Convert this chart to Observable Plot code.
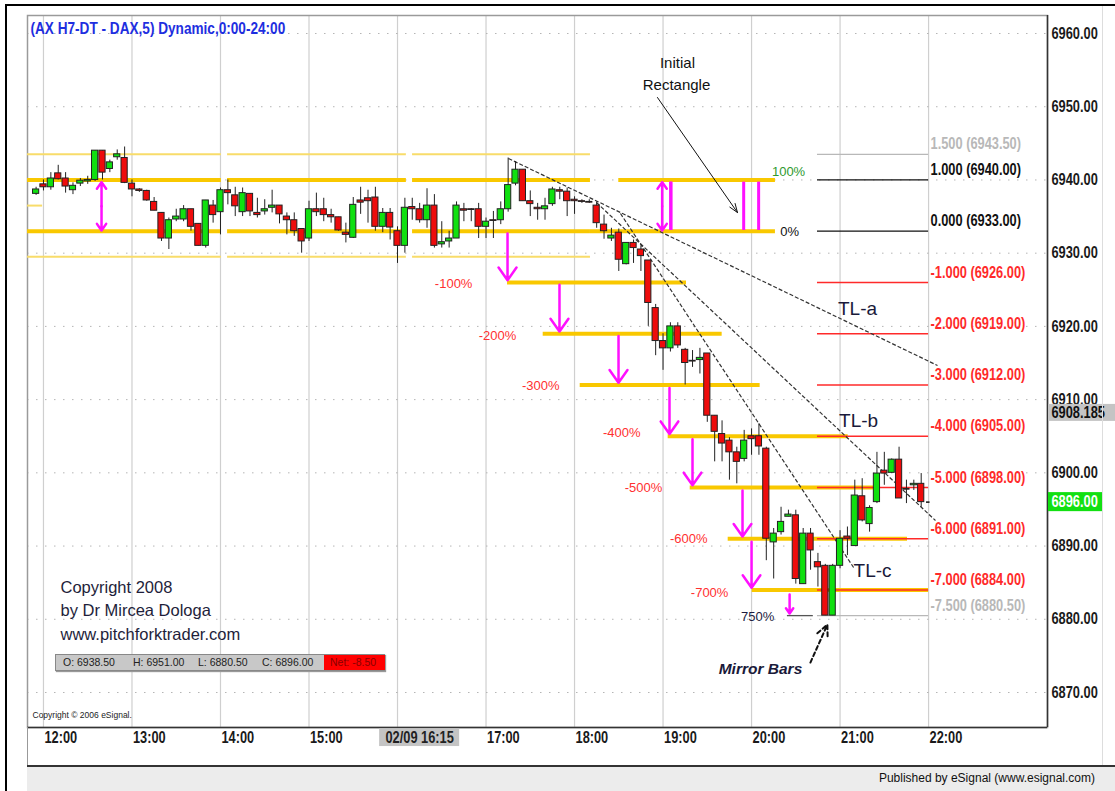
<!DOCTYPE html>
<html><head><meta charset="utf-8">
<script src="https://cdn.jsdelivr.net/npm/d3@7"></script>
<script src="https://cdn.jsdelivr.net/npm/@observablehq/plot@0.6"></script>
<style>
body{margin:0;background:#fff;}
#wrap{position:relative;width:1115px;height:791px;overflow:hidden;background:#fff;font-family:"Liberation Sans",Arial,sans-serif;}
#chart{position:absolute;left:0;top:0;}
#outer{position:absolute;left:5px;top:4px;width:1120px;height:800px;border-left:2px solid #000;border-top:2px solid #000;box-sizing:border-box;pointer-events:none;}
#status{position:absolute;left:55px;top:654px;width:330px;height:17px;background:#c8c8c8;border:1px solid #888;box-sizing:border-box;font-size:10.5px;line-height:15px;color:#222;white-space:nowrap;box-shadow:1px 1px 1px #999;}
#status span{position:absolute;top:0;}
#status .net{background:#ff0000;color:#800;left:268px;width:61px;height:15px;padding-left:6px;box-sizing:border-box;}
#pub{position:absolute;left:27px;top:765px;width:1088px;height:26px;background:#ececec;border-top:2px solid #333;box-sizing:border-box;font-size:12px;line-height:22px;text-align:right;padding-right:20px;color:#111;}
#pubL{position:absolute;left:27px;top:727px;width:1px;height:64px;background:#999;}
#rline{position:absolute;left:1102px;top:4px;width:1px;height:761px;background:#ddd;}
</style></head><body><div id="wrap"><div id="chart"></div><div id="rline"></div><div id="pubL"></div>
<div id="status"><span style="left:7px">O: 6938.50</span><span style="left:77px">H: 6951.00</span><span style="left:142px">L: 6880.50</span><span style="left:206px">C: 6896.00</span><span class="net">Net: -8.50</span></div>
<div id="pub">Published by eSignal (www.esignal.com)</div>
<div id="outer"></div></div>
<script>
// ---------- DATA ----------
const title = "(AX H7-DT - DAX,5) Dynamic,0:00-24:00";
const barStart = 11 + 55/60;   // first bar 11:55
const barStep = 5/60;          // 5-minute bars
const opens  = [6938.1,6939.4,6939.0,6940.9,6940.2,6938.6,6939.5,6939.8,6940.0,6944.0,6941.5,6943.1,6943.0,6939.5,6938.7,6938.5,6937.0,6935.5,6932.0,6934.6,6934.6,6936.0,6934.0,6931.0,6936.5,6935.6,6938.6,6937.9,6935.6,6938.1,6935.5,6935.7,6936.2,6936.5,6935.0,6934.5,6933.3,6932.0,6936.0,6936.0,6935.2,6934.9,6932.8,6932.1,6937.2,6937.5,6937.6,6933.6,6935.5,6933.0,6931.0,6936.3,6936.0,6934.5,6936.5,6931.2,6931.6,6932.0,6936.0,6936.0,6936.0,6933.6,6934.5,6934.5,6936.0,6939.5,6941.4,6937.1,6936.2,6936.0,6936.7,6938.6,6938.4,6937.3,6937.1,6937.0,6936.5,6933.9,6932.0,6932.8,6928.5,6931.4,6930.5,6929.0,6922.5,6918.0,6917.0,6920.0,6916.8,6915.3,6915.4,6916.3,6907.8,6905.3,6904.4,6902.8,6901.9,6905.0,6905.0,6903.3,6890.5,6891.9,6894.0,6894.2,6884.8,6891.7,6887.8,6887.3,6880.5,6887.3,6891.3,6890.0,6896.8,6893.0,6896.0,6900.3,6900.0,6901.8,6897.8,6898.3,6898.5];
const highs  = [6939.0,6940.0,6941.0,6942.0,6941.0,6939.6,6940.2,6940.5,6944.0,6944.0,6942.7,6944.1,6944.5,6940.0,6938.8,6938.6,6937.6,6935.5,6934.8,6936.0,6936.5,6936.0,6934.0,6937.2,6937.2,6938.9,6940.0,6939.0,6938.9,6938.1,6937.5,6937.3,6938.6,6936.5,6935.5,6935.5,6933.3,6937.1,6938.2,6937.5,6936.0,6934.9,6934.1,6937.6,6939.0,6938.6,6939.0,6936.1,6936.1,6933.6,6937.5,6937.5,6936.8,6938.8,6938.0,6934.3,6933.0,6937.0,6936.8,6936.1,6936.8,6934.8,6935.7,6937.0,6943.0,6942.5,6941.4,6938.5,6936.8,6937.5,6939.0,6939.0,6938.9,6937.7,6937.3,6937.3,6937.0,6935.2,6933.4,6933.3,6931.4,6931.8,6931.0,6929.0,6923.0,6919.0,6920.5,6920.5,6917.0,6916.7,6917.0,6916.3,6907.8,6907.1,6904.8,6903.5,6905.8,6906.0,6906.7,6903.5,6892.4,6895.3,6894.9,6894.9,6892.4,6892.4,6889.0,6887.5,6887.5,6892.1,6892.6,6899.0,6899.2,6895.5,6902.8,6902.8,6901.9,6903.5,6899.0,6899.0,6899.9];
const lows   = [6937.9,6938.5,6938.6,6940.0,6938.2,6938.0,6939.1,6939.4,6939.8,6940.0,6941.0,6942.7,6939.5,6937.7,6938.3,6937.1,6935.8,6931.6,6930.5,6934.3,6934.3,6933.0,6931.0,6930.7,6934.1,6932.5,6936.6,6935.0,6935.0,6935.0,6934.8,6935.2,6935.5,6934.0,6932.5,6932.3,6930.0,6931.6,6935.0,6934.3,6934.1,6933.0,6931.4,6932.0,6935.3,6934.1,6933.0,6932.8,6931.8,6928.6,6930.0,6934.5,6934.1,6933.4,6930.7,6930.7,6930.7,6932.0,6934.3,6934.3,6932.0,6932.0,6932.0,6933.9,6935.6,6939.2,6937.1,6935.0,6934.5,6934.5,6936.4,6937.3,6935.0,6935.3,6936.8,6936.8,6933.4,6931.9,6931.6,6927.5,6928.4,6928.6,6927.5,6920.0,6916.0,6914.0,6916.5,6917.0,6912.0,6914.4,6913.5,6906.9,6901.5,6901.5,6899.0,6898.5,6901.5,6902.4,6902.4,6888.0,6885.5,6891.5,6894.0,6884.8,6884.8,6886.7,6884.4,6880.5,6880.5,6886.9,6888.7,6890.0,6893.3,6891.9,6895.8,6898.3,6899.9,6896.5,6895.8,6897.6,6895.3];
const closes = [6938.7,6939.0,6940.2,6940.1,6939.1,6939.2,6939.9,6940.0,6944.0,6941.0,6942.4,6943.5,6939.6,6938.7,6938.5,6937.2,6935.8,6932.0,6934.5,6935.0,6936.0,6933.6,6931.0,6937.2,6935.2,6938.6,6938.2,6936.4,6938.2,6935.7,6935.2,6936.0,6936.5,6935.3,6934.5,6933.0,6931.6,6936.0,6935.6,6935.2,6934.9,6933.1,6932.5,6936.6,6936.9,6937.1,6933.6,6935.5,6933.5,6931.0,6936.2,6936.0,6934.5,6936.5,6931.0,6931.5,6932.0,6936.5,6935.8,6935.9,6933.6,6934.3,6934.4,6936.0,6939.3,6941.4,6937.1,6936.7,6936.0,6936.4,6938.7,6938.4,6937.1,6937.1,6937.0,6936.9,6934.1,6933.0,6932.4,6929.1,6931.4,6930.7,6929.6,6923.2,6918.0,6917.0,6920.0,6917.4,6915.0,6915.2,6915.7,6907.8,6905.6,6904.0,6902.8,6901.5,6904.4,6904.6,6903.6,6891.0,6891.7,6893.3,6894.3,6885.5,6891.7,6889.4,6887.1,6880.5,6887.3,6891.0,6891.0,6896.9,6893.5,6895.2,6899.9,6899.9,6901.8,6896.5,6897.7,6898.5,6896.0];

const priceTicks = [6870,6880,6890,6900,6910,6920,6930,6940,6950,6960];
const hourTicks  = [12,13,14,15,16,17,18,19,20,21,22];
const hourLabels = ["12:00","13:00","14:00","15:00","","17:00","18:00","19:00","20:00","21:00","22:00"];
const cursorTime = 16.25, cursorLabel = "02/09 16:15";
const lastValue = 6896.00, crossValue = 6908.185;

// initial rectangle levels (yellow) in three sessions
const sessionStarts = [11.82, 14.08, 16.17];
const sessionEnds   = [14.01, 16.10, 18.18];
const thickLevels = [6940, 6933];
const thinLevels  = [6943.5, 6929.5];
// projected rectangle on the right
const rectTop = 6940, rectBottom = 6933;
const rectTopStart = 18.50, rectBottomStart = 18.18, rectEnd = 20.27;
// extension levels drawn in yellow
const extLevels = [6926, 6919, 6912, 6905, 6898, 6891, 6884];
const extStarts = [17.243, 17.646, 18.064, 19.058, 19.307, 19.736, 20.007];
const extEnds   = [19.265, 19.668, 20.097, 21.092, 21.40, 21.762, 22.0];
const extLabels = ["-100%","-200%","-300%","-400%","-500%","-600%","-700%","750%"];
const extLabelT = [16.634, 17.13, 17.618, 18.533, 18.78, 19.29, 19.526, 20.068];
const extLabelP = [6925.85, 6918.75, 6911.93, 6905.5, 6898.0, 6891.0, 6883.65, 6880.38];
// Fibonacci tool
const fibRatios = [1.5, 1, 0, -1, -2, -3, -4, -5, -6, -7, -7.5];
const fibPrices = [6943.5, 6940, 6933, 6926, 6919, 6912, 6905, 6898, 6891, 6884, 6880.5];
const fibStart = 20.745, fibEnd = 22.0;
// trend lines [t1,p1,t2,p2]
const tlNames = ["TL-a","TL-b","TL-c"];
const tlLines = [[17.254,6942.93,22.101,6914.66],[18.248,6936.92,22.078,6893.49],[18.519,6935.42,21.153,6887.07]];
const tlLabelPos = [[21.197,6922.44],[21.209,6907.15],[21.367,6886.66]];
// magenta arrows
const dblArrowT = [12.656, 18.99];
const barMarksT = [19.086, 19.911, 20.08];
const rectArrowHi = 6939.7, rectArrowLo = 6933.1;
const downArrowT  = [17.243, 17.83, 18.497, 19.073, 19.333, 19.898, 20.0, 20.43];
const downArrowP1 = [6932.7, 6925.7, 6918.7, 6911.6, 6904.6, 6897.6, 6890.6, 6883.4];
const downArrowP2 = [6926.3, 6919.3, 6912.3, 6905.3, 6898.3, 6891.3, 6884.3, 6880.8];

// ---------- TABLES ----------
const bars = opens.map((o,i)=>({t: barStart + i*barStep, o, h: highs[i], l: lows[i], c: closes[i]}));
const segThick = [], segThin = [];
sessionStarts.forEach((s,i)=>{
  thickLevels.forEach(p=>segThick.push({p, t1:s, t2:sessionEnds[i]}));
  thinLevels.forEach(p=>segThin.push({p, t1:s, t2:sessionEnds[i]}));
});
segThin.push({p:6936.5, t1:11.82, t2:11.99});
segThick.push({p:rectTop, t1:rectTopStart, t2:rectEnd});
segThick.push({p:rectBottom, t1:rectBottomStart, t2:rectEnd});
extLevels.forEach((p,i)=>segThick.push({p, t1:extStarts[i], t2:extEnds[i]}));
const fib = fibRatios.map((r,i)=>({r, p: fibPrices[i],
  color: (r===1.5||r===-7.5) ? "#b8b8b8" : (r>=0 ? "#111" : "#ff2a2a"),
  text: r.toFixed(3) + " (" + fibPrices[i].toFixed(2) + ")"}));
const tls = tlLines.map(d=>({t1:d[0],p1:d[1],t2:d[2],p2:d[3]}));
const downArrows = downArrowT.map((t,i)=>({t, p1: downArrowP1[i], p2: downArrowP2[i]}));
const mid = (rectArrowHi + rectArrowLo)/2;
const dbl = [];
dblArrowT.forEach(t=>{dbl.push({t, p1:mid, p2:rectArrowHi}); dbl.push({t, p1:mid, p2:rectArrowLo});});
const extText = extLabels.map((s,i)=>({s, t: extLabelT[i], p: extLabelP[i]}));

const narrow = "'Arial Narrow','Liberation Sans',sans-serif";
const xDomain = [11.8195, 23.3437];
const yDomain = [6865.22, 6962.46];
const last = bars[bars.length-1];
const hw = 0.035;

const chart = Plot.plot({
  width: 1115, height: 765,
  marginLeft: 27, marginRight: 68, marginTop: 15, marginBottom: 38,
  x: {domain: xDomain, axis: null},
  y: {domain: yDomain, axis: null},
  style: {background: "transparent", fontFamily: "'Liberation Sans',Arial,sans-serif"},
  marks: [
    Plot.ruleX(hourTicks, {x: d=>d, stroke: "#cfcfcf", strokeWidth: 1.2}),
    Plot.ruleY(priceTicks, {y: d=>d, x1: xDomain[0], x2: xDomain[1], stroke: "#b5b5b5", strokeDasharray: "1.5,7.5"}),
    Plot.frame({stroke: "#9a9a9a", strokeWidth: 1.5}),
    Plot.ruleY([yDomain[0]], {stroke: "#333", strokeWidth: 1.5}),
    Plot.ruleX([xDomain[1]], {stroke: "#333", strokeWidth: 1.5}),
    // title
    Plot.text([title], {frameAnchor: "top-left", dx: 3, dy: 13, text: d=>d, fill: "#1e2ee0", fontWeight: "bold", fontSize: 16, fontFamily: narrow, lineAnchor: "middle"}),
    // yellow levels
    Plot.ruleY(segThin, {y: "p", x1: "t1", x2: "t2", stroke: "#f8dc6a", strokeWidth: 2}),
    Plot.ruleY(segThick, {y: "p", x1: "t1", x2: "t2", stroke: "#f9c800", strokeWidth: 4}),
    // fib tool
    Plot.ruleY(fib, {y: "p", x1: fibStart, x2: fibEnd, stroke: "color", strokeWidth: d=>d.r<0 && d.r>-7.5 ? 1.6 : 1.3}),
    Plot.ruleY([fibPrices[fibPrices.length-1]], {x1: 20.405, x2: 20.698, stroke: "#555", strokeWidth: 1.3}),
    Plot.text(fib, {x: fibEnd, y: "p", text: "text", fill: "color", dx: 2, dy: -10, textAnchor: "start", fontSize: 16, fontWeight: "bold", fontFamily: narrow}),
    Plot.text(["100%"], {x: 20.418, y: 6941.15, text: d=>d, fill: "#2e9a2e", fontSize: 13}),
    Plot.text(["0%"], {x: 20.43, y: 6932.96, text: d=>d, fill: "#111", fontSize: 13}),
    Plot.text(extText, {x: "t", y: "p", text: "s", fill: d=>d.s==="750%" ? "#1c1c40" : "#ff3030", fontWeight: d=>d.s==="750%" ? "bold" : "normal", fontSize: 13}),
    // trend lines
    Plot.link(tls, {x1: "t1", y1: "p1", x2: "t2", y2: "p2", stroke: "#333", strokeWidth: 1.2, strokeDasharray: "4,2"}),
    // candles
    Plot.ruleX(bars, {x: "t", y1: "l", y2: "h", stroke: "#222", strokeWidth: 1}),
    Plot.rect(bars, {x1: d=>d.t-hw, x2: d=>d.t+hw, y1: "o", y2: "c", fill: d=>d.c>=d.o ? "#10e010" : "#ee0c0c", stroke: "#222", strokeWidth: 1}),
    Plot.ruleY([lastValue], {x1: last.t + 0.06, x2: last.t + 0.1, stroke: "#111", strokeWidth: 1.5}),
    // magenta arrows
    Plot.arrow(dbl, {x1: "t", y1: "p1", x2: "t", y2: "p2", stroke: "#ff10ff", strokeWidth: 2.5, headLength: 10, headAngle: 70}),
    Plot.ruleX(barMarksT, {x: d=>d, y1: rectArrowLo, y2: rectArrowHi, stroke: "#ff10ff", strokeWidth: 3}),
    Plot.ruleX([dblArrowT[1]+0.1], {x: d=>d, y1: rectArrowLo, y2: rectArrowHi, stroke: "#ff10ff", strokeWidth: 3}),
    Plot.arrow(downArrows, {x1: "t", y1: "p1", x2: "t", y2: "p2", stroke: "#ff10ff", strokeWidth: 2.5, headLength: 10, headAngle: 70}),
    // annotations
    Plot.text(["Initial","Rectangle"], {x: [19.163,19.152], y: [6955.9,6952.9], text: d=>d, fill: "#111", fontSize: 15}),
    Plot.arrow([0], {x1: 18.937, y1: 6951.26, x2: 19.841, y2: 6935.55, stroke: "#111", strokeWidth: 1, headLength: 14, headAngle: 40}),
    Plot.text(tlNames, {x: (d,i)=>tlLabelPos[i][0], y: (d,i)=>tlLabelPos[i][1], text: d=>d, fill: "#1a1a3a", fontSize: 19}),
    Plot.text(["Mirror Bars"], {x: 20.101, y: 6873.27, text: d=>d, fill: "#1a1a3a", fontSize: 15.5, fontStyle: "italic", fontWeight: "bold"}),
    Plot.arrow([0], {x1: 20.665, y1: 6874.09, x2: 20.857, y2: 6879.28, stroke: "#111", strokeWidth: 2, strokeDasharray: "4,3", headLength: 10, headAngle: 50}),
    Plot.text(["Copyright 2008","by Dr Mircea Dologa","www.pitchforktrader.com"], {x: 12.192, y: [6884.34,6881.2,6877.92], text: d=>d, textAnchor: "start", fill: "#1e1e3a", fontSize: 16.5}),
    Plot.text(["Copyright \u00a9 2006 eSignal."], {x: 11.876, y: 6866.86, text: d=>d, textAnchor: "start", fill: "#222", fontSize: 8.5}),
    // right axis
    Plot.text(priceTicks, {x: xDomain[1], y: d=>d, text: d=>d.toFixed(2), dx: 4, textAnchor: "start", fill: "#1a1a1a", fontWeight: "bold", fontSize: 16, fontFamily: narrow}),
    Plot.rect([crossValue], {x1: 23.355, x2: 24.2, y1: d=>d-1.16, y2: d=>d+1.16, fill: "#c4c4c4"}),
    Plot.text([crossValue], {x: xDomain[1], y: d=>d, text: d=>d.toFixed(3), dx: 4, textAnchor: "start", fill: "#111", fontWeight: "bold", fontSize: 16, fontFamily: narrow}),
    Plot.rect([lastValue], {x1: 23.355, x2: 23.976, y1: d=>d-1.3, y2: d=>d+1.3, fill: "#12e012"}),
    Plot.text([lastValue], {x: xDomain[1], y: d=>d, text: d=>d.toFixed(2), dx: 4, textAnchor: "start", fill: "#fff", fontWeight: "bold", fontSize: 16, fontFamily: narrow}),
    // bottom axis
    Plot.text(hourTicks, {x: d=>d, y: yDomain[0], text: (d,i)=>hourLabels[i], dx: 1, dy: 10, textAnchor: "start", fill: "#1a1a1a", fontWeight: "bold", fontSize: 16, fontFamily: narrow}),
    Plot.rect([cursorTime], {x1: d=>d-0.452, x2: d=>d+0.452, y1: yDomain[0]-0.2, y2: yDomain[0]-2.6, fill: "#c4c4c4"}),
    Plot.text([cursorTime], {x: d=>d, y: yDomain[0], text: [cursorLabel], dy: 10, fill: "#222", fontWeight: "bold", fontSize: 16, fontFamily: narrow})
  ]
});
document.getElementById("chart").appendChild(chart);
// emulate a narrow (condensed) face: compress the glyphs horizontally
chart.querySelectorAll('g[font-family*="Narrow"] text').forEach(t => {
  const L = t.getComputedTextLength();
  const k = t.textContent === title ? 0.85 : 0.8;
  if (L > 0) { t.setAttribute("textLength", (L * k).toFixed(1)); t.setAttribute("lengthAdjust", "spacingAndGlyphs"); }
});
</script></body></html>
